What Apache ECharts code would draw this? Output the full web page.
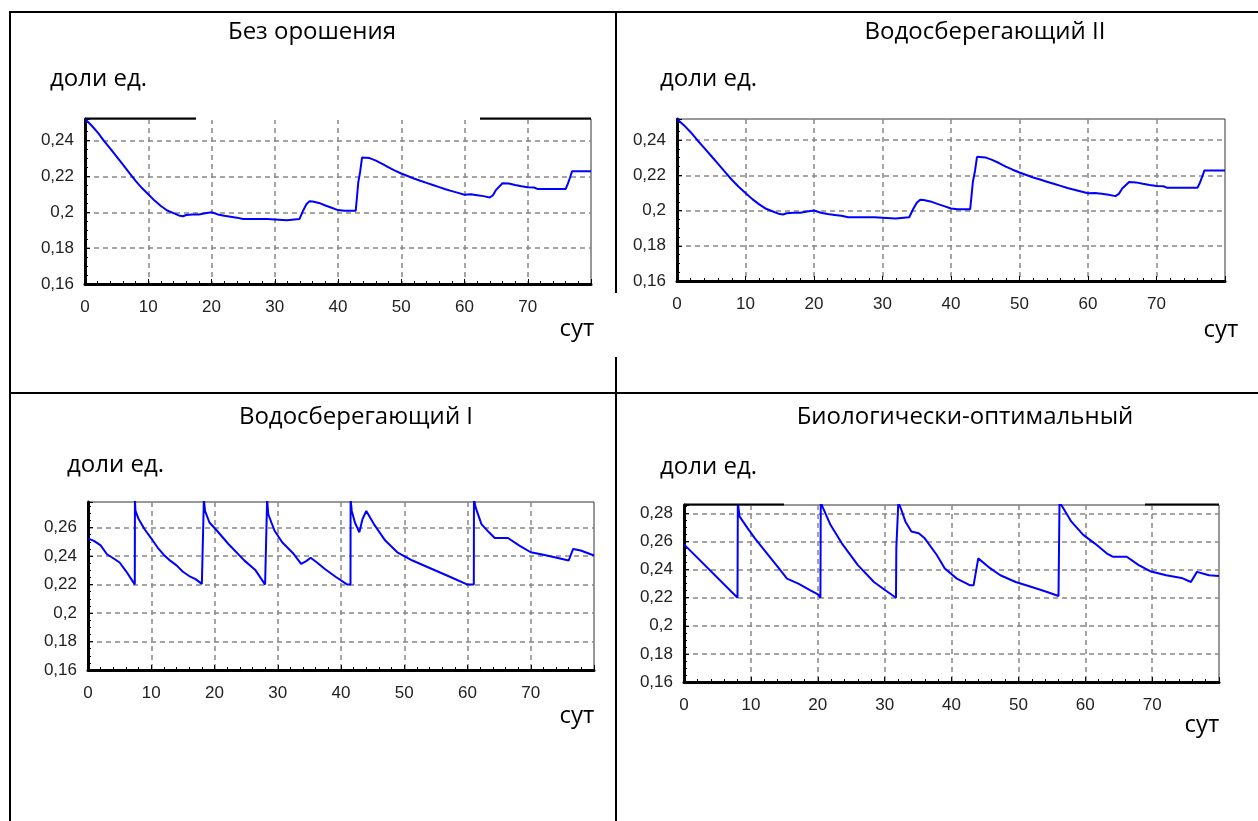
<!DOCTYPE html>
<html lang="ru">
<head>
<meta charset="utf-8">
<title>Влажность почвы по режимам орошения</title>
<script src="https://cdn.jsdelivr.net/npm/echarts@6/dist/echarts.min.js"></script>
<style>
html, body { margin: 0; padding: 0; background: #fff; }
#chart { width: 1258px; height: 821px; }
</style>
</head>
<body>
<div id="chart"></div>
<script>
// подписи панелей
const panelTitles = ["Без орошения", "Водосберегающий II", "Водосберегающий I", "Биологически-оптимальный"]
const yUnit = "доли ед."
const xUnit = "сут"

// оси
const xMin = 0, xMax = 80, xStep = 10
const yMin = 0.16, yStep = 0.02
const yMax = [0.252, 0.252, 0.278, 0.286]

// без орошения (сут / доли ед.)
const daysNoIrr = [0, 1, 2, 3, 4, 5, 6, 7, 8, 9,
  10, 11, 12, 13, 14, 15, 15.5, 16, 17, 18,
  19, 20, 21, 22, 23, 24, 25, 28.8, 29, 31.9,
  32, 33.9, 34.5, 35, 35.5, 36, 37, 38, 39, 40,
  41, 42.8, 43, 43.2, 43.5, 43.8, 45, 46, 47, 48,
  49, 50, 51, 52, 53, 54, 55, 56, 57, 58,
  59, 60, 61, 62, 63, 64, 64.5, 65, 66, 67,
  68, 69, 70, 71, 71.5, 76, 76.3, 76.7, 77, 80]
const moistNoIrr = [0.252, 0.2485, 0.2445, 0.2398, 0.2355, 0.231, 0.2265, 0.222, 0.2175, 0.2135,
  0.21, 0.2065, 0.2035, 0.201, 0.1995, 0.198, 0.1978, 0.1985, 0.1988, 0.1988,
  0.1995, 0.2, 0.1988, 0.198, 0.1975, 0.197, 0.1962, 0.1962, 0.1955, 0.1955,
  0.1962, 0.1962, 0.201, 0.2045, 0.2062, 0.206, 0.2052, 0.2038, 0.2025, 0.2012,
  0.2008, 0.2008, 0.2085, 0.2165, 0.2225, 0.2305, 0.2302, 0.2288, 0.227, 0.225,
  0.2232, 0.2216, 0.2202, 0.2188, 0.2176, 0.2164, 0.2152, 0.214, 0.2128, 0.2118,
  0.2108, 0.2098, 0.21, 0.2095, 0.209, 0.2082, 0.2095, 0.2125, 0.2162, 0.216,
  0.2152, 0.2145, 0.214, 0.2138, 0.213, 0.213, 0.2155, 0.2195, 0.2228, 0.2228]

// водосберегающий II — кривая на рисунке та же, что без орошения
const daysSave2 = daysNoIrr
const moistSave2 = moistNoIrr

// водосберегающий I
const daysSave1 = [0, 1, 2, 3, 4, 5, 6, 7, 7.4, 7.42,
  7.5, 8, 9, 10, 11, 12, 13, 14, 15, 16,
  17, 18, 18.3, 18.32, 18.5, 19.2, 20.4, 22.2, 24.7, 26.5,
  28, 28.3, 28.32, 28.5, 29.5, 30.7, 32.5, 33.7, 34.5, 35.2,
  36.2, 37.4, 39.2, 41, 41.5, 41.52, 41.7, 42.2, 42.9, 43.4,
  44, 45.2, 47, 48.9, 51.3, 54.3, 57.3, 60, 61, 61.02,
  61.3, 62.2, 63.4, 64.3, 66.4, 68.2, 70, 71.8, 73.6, 76,
  76.7, 77.9, 80]
const moistSave1 = [0.2525, 0.2505, 0.2475, 0.2413, 0.2385, 0.2355, 0.2295, 0.2228, 0.22, 0.28,
  0.272, 0.266, 0.2585, 0.2525, 0.246, 0.2408, 0.2368, 0.2335, 0.229, 0.226,
  0.2238, 0.2205, 0.22, 0.28, 0.2717, 0.2636, 0.2578, 0.2485, 0.237, 0.23,
  0.22, 0.22, 0.28, 0.2694, 0.2578, 0.2497, 0.2416, 0.2346, 0.2365, 0.2388,
  0.2355, 0.2311, 0.2253, 0.22, 0.22, 0.28, 0.2717, 0.2636, 0.2567, 0.266,
  0.2717, 0.2625, 0.2509, 0.2427, 0.2369, 0.2311, 0.2253, 0.22, 0.22, 0.28,
  0.274, 0.2625, 0.2567, 0.2527, 0.2527, 0.2474, 0.2427, 0.2411, 0.2393, 0.2369,
  0.245, 0.2439, 0.2404]

// биологически-оптимальный
const daysBio = [0, 8, 8.05, 8.3, 9.5, 10.6, 12.4, 14.2, 15.4, 17.1,
  18.9, 20.1, 20.4, 20.45, 20.8, 21.9, 23.6, 26, 28.4, 30.1,
  31.7, 31.75, 32, 32.05, 32.5, 33.1, 34, 35.1, 36, 37.8,
  39, 40.8, 42.8, 43.3, 44, 45.5, 47.3, 49.6, 52, 54.3,
  56, 56.1, 56.15, 56.7, 57.9, 59.7, 61.4, 63.2, 64.1, 66.2,
  68, 69.7, 72.1, 74.4, 75.8, 76.7, 78.5, 80]
const moistBio = [0.258, 0.22, 0.288, 0.2779, 0.2695, 0.2623, 0.2516, 0.2408, 0.2336, 0.23,
  0.2253, 0.2222, 0.22, 0.288, 0.2838, 0.2719, 0.2587, 0.2432, 0.2312, 0.2253,
  0.22, 0.2551, 0.2551, 0.288, 0.2826, 0.2743, 0.2671, 0.2659, 0.2623, 0.2504,
  0.2408, 0.2336, 0.2288, 0.2288, 0.248, 0.242, 0.236, 0.2312, 0.2276, 0.2241,
  0.2212, 0.22, 0.288, 0.2838, 0.2743, 0.2647, 0.2587, 0.2516, 0.2492, 0.2492,
  0.2432, 0.2389, 0.236, 0.2341, 0.2312, 0.2384, 0.236, 0.2355]

const panelDays = [daysNoIrr, daysSave2, daysSave1, daysBio]
const panelMoist = [moistNoIrr, moistSave2, moistSave1, moistBio]

// размещение четырёх графиков в ячейках таблицы
const boxes = [
  { left: 85, top: 119, width: 506, height: 165 },
  { left: 677, top: 119, width: 548, height: 162 },
  { left: 88, top: 502, width: 506, height: 168 },
  { left: 684, top: 505, width: 535, height: 177 }
]
const titlePos = [[312, 32], [985, 32], [356, 417], [965, 417]]
const unitPos = [[50, 79], [660, 79], [67, 465], [660, 467]]
const sutPos = [[577, 329], [1221, 330], [577, 716], [1202, 725]]

const textFont = "'Open Sans', 'Noto Sans', sans-serif"
const axisFont = "'Liberation Sans', Arial, sans-serif"

function makeText(str, x, y, align) {
  return {
    type: "text", x: x, y: y, silent: true,
    style: { text: str, fill: "#000", font: "24px " + textFont, textAlign: align, textVerticalAlign: "middle" }
  }
}

function makeLine(x1, y1, x2, y2, color, width) {
  return {
    type: "line", silent: true, z: 100,
    shape: { x1: x1, y1: y1, x2: x2, y2: y2 },
    style: { stroke: color || "#000", lineWidth: width || 2 }
  }
}

function buildOption() {
  const grid = boxes.map(b => ({ ...b, show: true, borderColor: "#333", borderWidth: 1, backgroundColor: "#fff" }))

  const xAxis = boxes.map((b, i) => ({
    type: "value", gridIndex: i, min: xMin, max: xMax, interval: xStep,
    axisLine: { show: true, onZero: false, lineStyle: { color: "#000", width: 3 } },
    axisTick: { show: true, inside: true, length: 5, lineStyle: { color: "#000" } },
    minorTick: { show: true, splitNumber: 5, length: 3, lineStyle: { color: "#000" } },
    axisLabel: { color: "#222", fontSize: 17, fontFamily: axisFont, margin: 15, showMaxLabel: false },
    splitLine: { show: true, showMinLine: false, showMaxLine: false, lineStyle: { color: "#888", width: 1.5, type: [5, 4] } }
  }))

  const yAxis = boxes.map((b, i) => ({
    type: "value", gridIndex: i, min: yMin, max: yMax[i], interval: yStep,
    axisLine: { show: true, onZero: false, lineStyle: { color: "#000", width: 3 } },
    axisTick: { show: true, inside: true, length: 5, lineStyle: { color: "#000" } },
    minorTick: { show: true, splitNumber: 4, length: 3, lineStyle: { color: "#000" } },
    axisLabel: {
      color: "#222", fontSize: 17, fontFamily: axisFont, margin: 11, showMaxLabel: false,
      formatter: v => String(+v.toFixed(2)).replace(".", ",")
    },
    splitLine: { show: true, showMinLine: false, showMaxLine: false, lineStyle: { color: "#888", width: 1.5, type: [5, 4] } }
  }))

  const series = panelDays.map((days, i) => ({
    type: "line", name: panelTitles[i], xAxisIndex: i, yAxisIndex: i,
    data: days.map((d, k) => [d, panelMoist[i][k]]),
    showSymbol: false, clip: true,
    lineStyle: { color: "#0000ff", width: 2 }
  }))

  const graphic = []
  // рамка таблицы
  graphic.push(makeLine(9, 12, 1258, 12))
  graphic.push(makeLine(10, 12, 10, 821))
  graphic.push(makeLine(10, 393, 1258, 393))
  graphic.push(makeLine(616, 12, 616, 293))
  graphic.push(makeLine(616, 357, 616, 821))
  // верхняя кромка рисунков в исходнике местами перекрыта
  graphic.push(makeLine(196, 119, 480, 119, "#fff", 2))
  graphic.push(makeLine(85, 118.5, 196, 118.5, "#000", 2))
  graphic.push(makeLine(480, 118.5, 591, 118.5, "#000", 2))
  graphic.push(makeLine(684, 504.5, 784, 504.5, "#000", 2))
  graphic.push(makeLine(1145, 504.5, 1219, 504.5, "#000", 2))
  panelTitles.forEach((t, i) => {
    graphic.push(makeText(t, titlePos[i][0], titlePos[i][1], "center"))
    graphic.push(makeText(yUnit, unitPos[i][0], unitPos[i][1], "left"))
    graphic.push(makeText(xUnit, sutPos[i][0], sutPos[i][1], "center"))
  })

  return { animation: false, backgroundColor: "#fff", grid, xAxis, yAxis, series, graphic }
}

const chart = echarts.init(document.getElementById("chart"), null, { renderer: "canvas" })
chart.setOption(buildOption())
</script>
</body>
</html>
